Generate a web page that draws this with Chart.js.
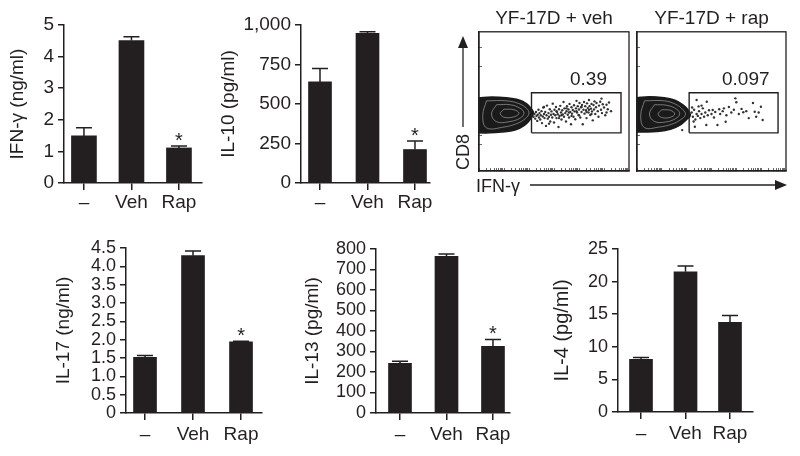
<!DOCTYPE html>
<html>
<head>
<meta charset="utf-8">
<script src="https://cdn.jsdelivr.net/npm/chart.js@4.4.0/dist/chart.umd.min.js"></script>
<style>
  body { margin: 0; background: #fff; }
  #page { position: relative; width: 800px; height: 456px; background: #fff; overflow: hidden; }
  #page canvas { position: absolute; }
  #notes { position: absolute; left: 0; top: 0; }
</style>
</head>
<body>
<div id="page">
  <canvas id="c1" width="210" height="225" style="left:0;top:0"></canvas>
  <canvas id="c2" width="225" height="225" style="left:212px;top:0"></canvas>
  <canvas id="fVeh" width="158" height="176" style="left:475px;top:0"></canvas>
  <canvas id="fRap" width="157" height="176" style="left:633px;top:0"></canvas>
  <canvas id="c4" width="270" height="228" style="left:0;top:228px"></canvas>
  <canvas id="c5" width="245" height="228" style="left:272px;top:228px"></canvas>
  <canvas id="c6" width="235" height="228" style="left:530px;top:228px"></canvas>
  <svg id="notes" width="800" height="456" font-family="Liberation Sans, Arial, sans-serif" fill="#231f20">
    <line x1="463" y1="127" x2="463" y2="46" stroke="#231f20" stroke-width="1.3"/>
    <polygon points="463,36 458,48 468,48"/>
    <text transform="translate(469,152) rotate(-90)" text-anchor="middle" font-size="18">CD8</text>
    <line x1="530" y1="185" x2="776" y2="185" stroke="#231f20" stroke-width="1.3"/>
    <polygon points="787,185 775,180 775,190"/>
    <text x="476" y="192" font-size="18">IFN-γ</text>
  </svg>
</div>
<script>
// groups on the x axis
const groups = ['–', 'Veh', 'Rap'];

// cytokine means and SEM
const ifngMean = [1.49, 4.51, 1.11];
const ifngSem = [0.26, 0.12, 0.06];
const il10Mean = [640, 947, 212];
const il10Sem = [85, 10, 54];
const il17Mean = [1.52, 4.29, 1.94];
const il17Sem = [0.05, 0.13, 0.02];
const il13Mean = [242, 764, 325];
const il13Sem = [11, 12, 34];
const il4Mean = [8.06, 21.5, 13.75];
const il4Sem = [0.31, 0.9, 1.05];

// * = significant vs veh
const starRap = [false, false, true];
const noStar = [false, false, false];

// y ticks
const ifngTicks = [0, 1, 2, 3, 4, 5];
const ifngTickLabels = ['0', '1', '2', '3', '4', '5'];
const il10Ticks = [0, 250, 500, 750, 1000];
const il10TickLabels = ['0', '250', '500', '750', '1,000'];
const il17Ticks = [0, 0.5, 1, 1.5, 2, 2.5, 3, 3.5, 4, 4.5];
const il17TickLabels = ['0', '0.5', '1.0', '1.5', '2.0', '2.5', '3.0', '3.5', '4.0', '4.5'];
const il13Ticks = [0, 100, 200, 300, 400, 500, 600, 700, 800];
const il13TickLabels = ['0', '100', '200', '300', '400', '500', '600', '700', '800'];
const il4Ticks = [0, 5, 10, 15, 20, 25];
const il4TickLabels = ['0', '5', '10', '15', '20', '25'];

// flow plots, log10 units (IFN-γ, CD8)
const gateX = [2.10, 5.68];
const gateY = [1.37, 2.81];
const gatePct = ['0.39', '0.097'];
const flowYTicks = [0.94, 1.29, 2.09, 2.59, 3.74, 4.42];

const vehContour = [[0,2.63],[0.51,2.66],[1.09,2.63],[1.6,2.55],[1.91,2.41],[2.1,2.23],[2.18,2.09],[2.06,1.87],[1.83,1.65],[1.44,1.47],[0.89,1.4],[0.43,1.37],[0,1.37]];
const vehRings = [
  [[0.3,2.52],[1.1,2.52],[1.6,2.42],[1.9,2.25],[2.0,2.08],[1.85,1.88],[1.5,1.7],[1.0,1.58],[0.3,1.55],[0.15,2.0],[0.3,2.52]],
  [[0.7,2.38],[1.25,2.38],[1.65,2.25],[1.8,2.08],[1.65,1.9],[1.2,1.77],[0.7,1.77],[0.5,2.05],[0.7,2.38]],
  [[1.0,2.22],[1.4,2.2],[1.6,2.08],[1.42,1.95],[1.0,1.93],[0.85,2.07],[1.0,2.22]]
];
const vehDots = [
  [2.18,1.95],[2.22,2.05],[2.25,1.88],[2.28,2.12],[2.30,1.98],[2.33,1.80],[2.35,2.02],[2.38,2.20],[2.40,1.92],[2.42,2.08],
  [2.45,1.85],[2.47,2.00],[2.50,2.15],[2.52,1.72],[2.55,1.96],[2.57,2.28],[2.60,2.05],[2.62,1.90],[2.65,2.12],[2.68,1.62],
  [2.70,2.00],[2.72,2.35],[2.75,1.88],[2.78,2.08],[2.80,1.95],[2.83,2.22],[2.85,1.78],[2.88,2.02],[2.90,2.14],[2.93,1.92],
  [2.95,2.42],[2.98,2.05],[3.00,1.74],[3.02,2.20],[3.05,2.00],[3.08,2.30],[3.10,1.90],[3.12,2.12],[3.15,2.04],[3.18,1.58],
  [3.20,2.22],[3.22,1.98],[3.25,2.34],[3.28,2.10],[3.30,1.85],[3.33,2.18],[3.35,2.03],[3.38,2.48],[3.40,1.95],[3.42,2.25],
  [3.45,2.08],[3.48,1.78],[3.50,2.15],[3.52,2.33],[3.55,2.02],[3.58,2.21],[3.60,1.92],[3.62,2.41],[3.65,2.12],[3.68,1.68],
  [3.70,2.29],[3.72,2.06],[3.75,2.19],[3.78,1.95],[3.80,2.36],[3.82,2.14],[3.85,1.86],[3.88,2.25],[3.90,2.52],[3.92,2.10],
  [3.95,2.33],[3.98,2.01],[4.00,2.21],[4.02,2.44],[4.05,1.92],[4.08,2.29],[4.10,2.12],[4.12,2.37],[4.15,1.68],[4.18,2.20],
  [4.20,2.48],[4.22,2.06],[4.25,2.33],[4.28,2.18],[4.30,1.90],[4.32,2.43],[4.35,2.26],[4.38,2.10],[4.40,2.55],[4.42,2.33],
  [4.45,2.01],[4.48,2.24],[4.50,2.41],[4.52,2.14],[4.55,1.82],[4.58,2.37],[4.60,2.21],[4.62,2.50],[4.65,2.05],[4.68,2.29],
  [4.70,2.44],[4.75,2.15],[4.78,1.95],[4.80,2.35],[4.85,2.49],[4.88,2.20],[4.92,2.08],[4.95,2.40],[5.00,2.28],[5.05,2.00],
  [5.10,2.38],[5.15,2.22],[5.20,2.46],[5.28,2.15],[3.10,2.15],[3.30,2.00],[3.50,2.25],[3.70,1.98],[3.90,2.15],[4.10,2.30],
  [4.30,2.12],[4.50,2.05],[3.20,1.90],[3.60,2.10],[4.00,2.00],[4.40,2.20],[2.60,2.30],[2.80,1.70],[4.90,2.60],[5.10,2.10]
];

const rapContour = [[0,2.63],[0.5,2.67],[1.1,2.63],[1.5,2.55],[1.85,2.38],[2.05,2.2],[2.15,2.0],[2.0,1.85],[1.75,1.66],[1.35,1.5],[0.8,1.42],[0.3,1.4],[0,1.4]];
const rapRings = [
  [[0.3,2.52],[1.1,2.52],[1.55,2.4],[1.85,2.2],[1.95,2.02],[1.75,1.84],[1.4,1.68],[0.9,1.58],[0.3,1.56],[0.15,2.0],[0.3,2.52]],
  [[0.7,2.38],[1.2,2.36],[1.6,2.22],[1.72,2.05],[1.55,1.88],[1.15,1.76],[0.7,1.78],[0.5,2.05],[0.7,2.38]],
  [[1.0,2.2],[1.35,2.18],[1.52,2.05],[1.35,1.93],[1.0,1.92],[0.85,2.05],[1.0,2.2]]
];
const rapDots = [
  [2.40,2.55],[2.60,2.35],[2.81,2.49],[3.05,2.19],[3.31,2.22],[3.50,2.25],[3.70,2.30],[3.96,2.61],[4.00,2.47],[4.21,2.23],
  [4.28,2.11],[4.67,2.44],[4.74,2.13],[4.80,1.95],[4.99,2.31],[5.06,1.83],[3.57,1.77],[3.24,1.65],[2.79,1.65],[2.33,1.59],
  [1.82,1.47],[2.20,2.10],[2.25,1.95],[2.30,2.20],[2.35,1.85],[2.40,2.05],[2.45,1.98],[2.50,2.15],[2.55,1.90],[2.60,2.05],
  [2.65,2.25],[2.70,1.95],[2.75,2.10],[2.85,2.00],[2.90,2.18],[3.00,2.05],[3.10,1.92],[3.15,2.12],[3.35,2.05],[3.45,2.15],
  [3.60,2.00],[3.80,2.10],[3.90,2.20],[4.10,2.05],[4.40,2.15],[4.50,1.90],[4.90,2.10],[2.22,2.28],[2.28,1.78],[2.48,2.32]
];

const ink = '#231f20';
const fontFam = '"Liberation Sans", Arial, Helvetica, sans-serif';
Chart.defaults.font.family = fontFam;
Chart.defaults.color = ink;

// log decade tick marks for the IFN-γ axis
const flowXTicks = [];
for (let d = 0; d < 6; d++) {
  for (let k = 1; k < 10; k++) flowXTicks.push(d + Math.log10(k));
}

// error bars (upper only) + significance star
const errPlugin = {
  id: 'errbars',
  afterDatasetsDraw(chart) {
    const { ctx, scales: { x, y } } = chart;
    const ds = chart.data.datasets[0];
    ctx.save();
    ctx.strokeStyle = ink;
    ctx.fillStyle = ink;
    ctx.lineWidth = 1.5;
    ds.data.forEach((d, i) => {
      const px = x.getPixelForValue(d.x);
      const base = y.getPixelForValue(d.y);
      const top = y.getPixelForValue(d.y + ds.sem[i]);
      ctx.beginPath();
      ctx.moveTo(px, base);
      ctx.lineTo(px, top);
      ctx.moveTo(px - 8, top);
      ctx.lineTo(px + 8, top);
      ctx.stroke();
      if (ds.star[i]) {
        ctx.font = '20px ' + fontFam;
        ctx.textAlign = 'center';
        ctx.textBaseline = 'alphabetic';
        ctx.fillText('*', px, top + 1);
      }
    });
    ctx.restore();
  }
};

function barPanel(id, o) {
  new Chart(document.getElementById(id), {
    type: 'bar',
    data: {
      datasets: [{
        data: o.vals.map((v, i) => ({ x: i, y: v })),
        sem: o.sem,
        star: o.star,
        backgroundColor: ink,
        barThickness: o.barW
      }]
    },
    options: {
      responsive: false,
      animation: false,
      devicePixelRatio: 1,
      layout: { padding: { top: o.padTop, right: o.padRight, left: 0, bottom: 0 } },
      plugins: { legend: { display: false }, tooltip: { enabled: false } },
      scales: {
        x: {
          type: 'linear',
          offset: false,
          min: o.xMin,
          max: o.xMax,
          grid: { offset: false, drawOnChartArea: false, tickLength: 7, color: ink, lineWidth: 1.5 },
          border: { color: ink, width: 1.5 },
          ticks: { padding: o.labelPad, font: { size: 19 }, color: ink, callback: v => groups[v] },
          afterBuildTicks: s => { s.ticks = groups.map((g, i) => ({ value: i })); },
          afterFit: s => { s.height = o.xh; }
        },
        y: {
          min: 0,
          max: o.ticks[o.ticks.length - 1],
          grid: { drawOnChartArea: false, tickLength: 6, color: ink, lineWidth: 1.5 },
          border: { color: ink, width: 1.5 },
          ticks: { padding: 4, autoSkip: false, font: { size: o.tickSize }, color: ink, callback: (v, i) => o.tickLabels[i] },
          afterBuildTicks: s => { s.ticks = o.ticks.map(v => ({ value: v })); },
          afterFit: s => { s.width = o.yw; },
          title: { display: true, text: o.title, color: ink, font: { size: o.titleSize }, padding: { top: o.titlePad, bottom: 0 } }
        }
      }
    },
    plugins: [errPlugin]
  });
}

barPanel('c1', { vals: ifngMean, sem: ifngSem, star: starRap, ticks: ifngTicks, tickLabels: ifngTickLabels,
  title: 'IFN-γ (ng/ml)', yw: 64, xh: 42, padTop: 25, padRight: 8, xMin: -0.42, xMax: 2.485,
  barW: 25, tickSize: 19, titleSize: 19, titlePad: 6.6, labelPad: 1 });
barPanel('c2', { vals: il10Mean, sem: il10Sem, star: starRap, ticks: il10Ticks, tickLabels: il10TickLabels,
  title: 'IL-10 (pg/ml)', yw: 89, xh: 42, padTop: 25, padRight: 7, xMin: -0.4, xMax: 2.316,
  barW: 23, tickSize: 19, titleSize: 19, titlePad: 5.6, labelPad: 1 });
barPanel('c4', { vals: il17Mean, sem: il17Sem, star: starRap, ticks: il17Ticks, tickLabels: il17TickLabels,
  title: 'IL-17 (ng/ml)', yw: 126, xh: 43, padTop: 20, padRight: 8, xMin: -0.396, xMax: 2.437,
  barW: 23, tickSize: 18, titleSize: 19, titlePad: 52.6, labelPad: 3.6 });
barPanel('c5', { vals: il13Mean, sem: il13Sem, star: starRap, ticks: il13Ticks, tickLabels: il13TickLabels,
  title: 'IL-13 (pg/ml)', yw: 104, xh: 43, padTop: 21, padRight: 7, xMin: -0.516, xMax: 2.366,
  barW: 23, tickSize: 18, titleSize: 19, titlePad: 29.6, labelPad: 3.6 });
barPanel('c6', { vals: il4Mean, sem: il4Sem, star: noStar, ticks: il4Ticks, tickLabels: il4TickLabels,
  title: 'IL-4 (pg/ml)', yw: 88, xh: 44, padTop: 21, padRight: 12, xMin: -0.517, xMax: 2.517,
  barW: 23, tickSize: 18, titleSize: 20, titlePad: 20, labelPad: 3.6 });

// frame + gate percentage
const flowPlugin = {
  id: 'flowframe',
  afterDatasetsDraw(chart) {
    const { ctx, chartArea: a, scales: { x, y } } = chart;
    ctx.save();
    ctx.strokeStyle = ink;
    ctx.lineWidth = 1.3;
    ctx.strokeRect(a.left, a.top, a.right - a.left, a.bottom - a.top);
    const gate = chart.data.datasets[chart.data.datasets.length - 1];
    ctx.fillStyle = ink;
    ctx.font = '19px ' + fontFam;
    ctx.textAlign = 'center';
    ctx.textBaseline = 'middle';
    ctx.fillText(gate.pct, x.getPixelForValue(4.38), y.getPixelForValue(3.27));
    ctx.restore();
  }
};

const pts = arr => arr.map(p => ({ x: p[0], y: p[1] }));

function flowPanel(id, title, contour, rings, dots, pct) {
  const gate = [[gateX[0], gateY[0]], [gateX[1], gateY[0]], [gateX[1], gateY[1]], [gateX[0], gateY[1]], [gateX[0], gateY[0]]];
  // higher order is drawn first
  const datasets = [{
    type: 'line', order: 10, data: pts(contour), borderColor: '#1a1a1a', backgroundColor: '#1a1a1a',
    borderWidth: 1.5, fill: 'shape', pointRadius: 0, tension: 0.35
  }];
  rings.forEach(r => datasets.push({
    type: 'line', order: 5, data: pts(r), borderColor: 'rgba(190,190,190,0.8)', borderWidth: 0.7,
    fill: false, pointRadius: 0, tension: 0.4
  }));
  datasets.push({ type: 'scatter', order: 2, data: pts(dots), pointRadius: 1.2, backgroundColor: '#333', borderWidth: 0 });
  datasets.push({
    type: 'line', order: 1, data: pts(gate), pct: pct, borderColor: ink, borderWidth: 1.4,
    fill: false, pointRadius: 0, tension: 0
  });
  new Chart(document.getElementById(id), {
    type: 'scatter',
    data: { datasets },
    options: {
      responsive: false,
      animation: false,
      devicePixelRatio: 1,
      layout: { padding: { top: 0, right: 2, left: 2, bottom: 5 } },
      plugins: {
        legend: { display: false },
        tooltip: { enabled: false },
        title: { display: true, text: title, color: ink, font: { size: 19, weight: 'normal' }, padding: { top: 7, bottom: 2 } }
      },
      scales: {
        x: {
          type: 'linear', min: 0, max: 6,
          grid: { drawOnChartArea: false, tickLength: -3, color: '#444', lineWidth: 0.8 },
          border: { color: ink, width: 1.3 },
          ticks: { display: false },
          afterBuildTicks: s => { s.ticks = flowXTicks.map(v => ({ value: v })); },
          afterFit: s => { s.height = 0; }
        },
        y: {
          type: 'linear', min: 0, max: 5,
          grid: { drawOnChartArea: false, tickLength: -3, color: '#444', lineWidth: 0.8 },
          border: { color: ink, width: 1.3 },
          ticks: { display: false },
          afterBuildTicks: s => { s.ticks = flowYTicks.map(v => ({ value: v })); },
          afterFit: s => { s.width = 0; }
        }
      }
    },
    plugins: [flowPlugin]
  });
}

flowPanel('fVeh', 'YF-17D + veh', vehContour, vehRings, vehDots, gatePct[0]);
flowPanel('fRap', 'YF-17D + rap', rapContour, rapRings, rapDots, gatePct[1]);
</script>
</body>
</html>
